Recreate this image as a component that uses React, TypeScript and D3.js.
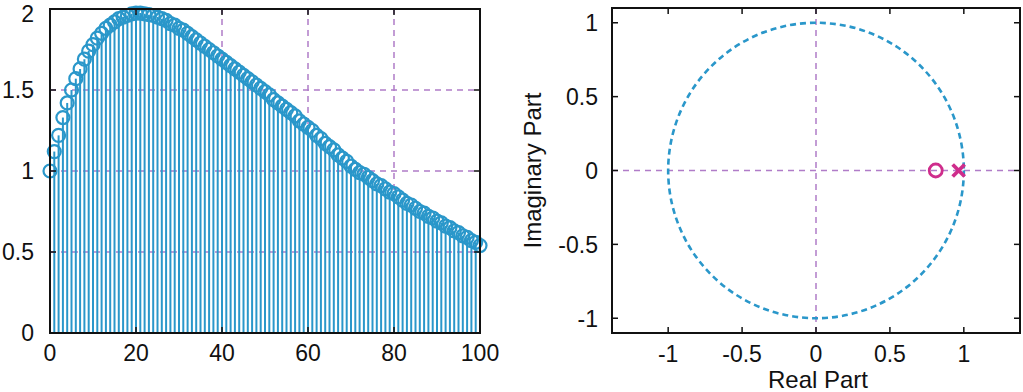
import React from 'react';
import * as d3 from 'd3';

// impulse response, n = 0..100
const response = [
  1.0, 1.12, 1.22, 1.33, 1.42, 1.5, 1.57, 1.63, 1.69, 1.74,
  1.78, 1.82, 1.85, 1.88, 1.9, 1.92, 1.94, 1.95, 1.96, 1.97,
  1.975, 1.975, 1.97, 1.965, 1.96, 1.95, 1.94, 1.93, 1.91, 1.9,
  1.88, 1.87, 1.85, 1.83, 1.81, 1.79, 1.77, 1.75, 1.73, 1.71,
  1.69, 1.67, 1.65, 1.63, 1.61, 1.59, 1.57, 1.55, 1.53, 1.51,
  1.49, 1.47, 1.44, 1.42, 1.4, 1.38, 1.36, 1.34, 1.31, 1.29,
  1.27, 1.25, 1.22, 1.2, 1.17, 1.15, 1.13, 1.1, 1.08, 1.06,
  1.03, 1.01, 0.99, 0.98, 0.96, 0.94, 0.92, 0.91, 0.89, 0.87,
  0.86, 0.84, 0.82, 0.8, 0.79, 0.77, 0.75, 0.74, 0.72, 0.71,
  0.69, 0.68, 0.66, 0.65, 0.63, 0.62, 0.6, 0.59, 0.57, 0.56,
  0.54,
];
const leftXTicks = [0, 20, 40, 60, 80, 100];
const leftYTicks = [0, 0.5, 1, 1.5, 2];
const leftXGrid = [20, 40, 60, 80];
const leftYGrid = [0.5, 1, 1.5];

// pole-zero plot
const zeros = [{ re: 0.81, im: 0 }];
const poles = [{ re: 0.965, im: 0 }];
const rightXTicks = [-1, -0.5, 0, 0.5, 1];
const rightYTicks = [-1, -0.5, 0, 0.5, 1];

const FONT = '"Liberation Sans", Arial, sans-serif';
const STEM = '#2a97ca';
const GRID = '#b07cc8';
const PZ = '#cf2d8c';

export default function App() {
  // left panel scales
  const x1 = d3.scaleLinear().domain([0, 100]).range([50, 480]);
  const y1 = d3.scaleLinear().domain([0, 2]).range([333, 9]);
  // right panel scales
  const x2 = d3.scaleLinear().domain([-1.38, 1.38]).range([612, 1020]);
  const y2 = d3.scaleLinear().domain([-1.1, 1.1]).range([333, 8]);

  const tk = 6;
  const fmt = (v: number) => String(v);

  return (
    <svg width={1023} height={392} style={{ position: 'absolute', left: 0, top: 0, background: '#fff' }} fontFamily={FONT}>
      {/* ---- left: stem plot ---- */}
      <g>
        {leftXGrid.map(v => (
          <line key={'gx' + v} x1={x1(v)} x2={x1(v)} y1={y1(0)} y2={y1(2)} stroke={GRID} strokeWidth={1.5} strokeDasharray="6,5" />
        ))}
        {leftYGrid.map(v => (
          <line key={'gy' + v} x1={x1(0)} x2={x1(100)} y1={y1(v)} y2={y1(v)} stroke={GRID} strokeWidth={1.5} strokeDasharray="6,5" />
        ))}
        {response.map((v, i) => (
          <line key={'s' + i} x1={x1(i)} x2={x1(i)} y1={y1(0)} y2={y1(v)} stroke={STEM} strokeWidth={2} />
        ))}
        {response.map((v, i) => (
          <circle key={'c' + i} cx={x1(i)} cy={y1(v)} r={6.5} fill="none" stroke={STEM} strokeWidth={2.2} />
        ))}
        <rect x={x1(0)} y={y1(2)} width={x1(100) - x1(0)} height={y1(0) - y1(2)} fill="none" stroke="#111" strokeWidth={2} />
        {leftXTicks.map(v => (
          <g key={'xt' + v}>
            <line x1={x1(v)} x2={x1(v)} y1={y1(0)} y2={y1(0) - tk} stroke="#111" strokeWidth={1.5} />
            <line x1={x1(v)} x2={x1(v)} y1={y1(2)} y2={y1(2) + tk} stroke="#111" strokeWidth={1.5} />
            <text x={x1(v)} y={361} textAnchor="middle" fontSize={23} fill="#111">{fmt(v)}</text>
          </g>
        ))}
        {leftYTicks.map(v => (
          <g key={'yt' + v}>
            <line x1={x1(0)} x2={x1(0) + tk} y1={y1(v)} y2={y1(v)} stroke="#111" strokeWidth={1.5} />
            <line x1={x1(100)} x2={x1(100) - tk} y1={y1(v)} y2={y1(v)} stroke="#111" strokeWidth={1.5} />
            <text x={34} y={Math.max(y1(v), 14)} dy="0.36em" textAnchor="end" fontSize={23} fill="#111">{fmt(v)}</text>
          </g>
        ))}
      </g>

      {/* ---- right: pole-zero plot ---- */}
      <g>
        <line x1={x2(0)} x2={x2(0)} y1={y2(-1.1)} y2={y2(1.1)} stroke={GRID} strokeWidth={1.5} strokeDasharray="6,5" />
        <line x1={x2(-1.38)} x2={x2(1.38)} y1={y2(0)} y2={y2(0)} stroke={GRID} strokeWidth={1.5} strokeDasharray="6,5" />
        <ellipse cx={x2(0)} cy={y2(0)} rx={x2(1) - x2(0)} ry={y2(0) - y2(1)} fill="none" stroke={STEM} strokeWidth={2.6} strokeDasharray="6,4" />
        {zeros.map((z, i) => (
          <circle key={'z' + i} cx={x2(z.re)} cy={y2(z.im)} r={6.5} fill="none" stroke={PZ} strokeWidth={2.8} />
        ))}
        {poles.map((p, i) => {
          const cx = x2(p.re), cy = y2(p.im), s = 6;
          return (
            <g key={'p' + i} stroke={PZ} strokeWidth={3.8}>
              <line x1={cx - s} y1={cy - s} x2={cx + s} y2={cy + s} />
              <line x1={cx - s} y1={cy + s} x2={cx + s} y2={cy - s} />
            </g>
          );
        })}
        <rect x={x2(-1.38)} y={y2(1.1)} width={x2(1.38) - x2(-1.38)} height={y2(-1.1) - y2(1.1)} fill="none" stroke="#111" strokeWidth={2} />
        {rightXTicks.map(v => (
          <g key={'rxt' + v}>
            <line x1={x2(v)} x2={x2(v)} y1={y2(-1.1)} y2={y2(-1.1) - tk} stroke="#111" strokeWidth={1.5} />
            <line x1={x2(v)} x2={x2(v)} y1={y2(1.1)} y2={y2(1.1) + tk} stroke="#111" strokeWidth={1.5} />
            <text x={x2(v)} y={362} textAnchor="middle" fontSize={23} fill="#111">{fmt(v)}</text>
          </g>
        ))}
        {rightYTicks.map(v => (
          <g key={'ryt' + v}>
            <line x1={x2(-1.38)} x2={x2(-1.38) + tk} y1={y2(v)} y2={y2(v)} stroke="#111" strokeWidth={1.5} />
            <line x1={x2(1.38)} x2={x2(1.38) - tk} y1={y2(v)} y2={y2(v)} stroke="#111" strokeWidth={1.5} />
            <text x={598} y={y2(v)} dy="0.36em" textAnchor="end" fontSize={23} fill="#111">{fmt(v)}</text>
          </g>
        ))}
        <text x={818} y={388} textAnchor="middle" fontSize={24} fill="#111">Real Part</text>
        <text transform={`translate(541,${y2(0)}) rotate(-90)`} textAnchor="middle" fontSize={24} fill="#111">Imaginary Part</text>
      </g>
    </svg>
  );
}
